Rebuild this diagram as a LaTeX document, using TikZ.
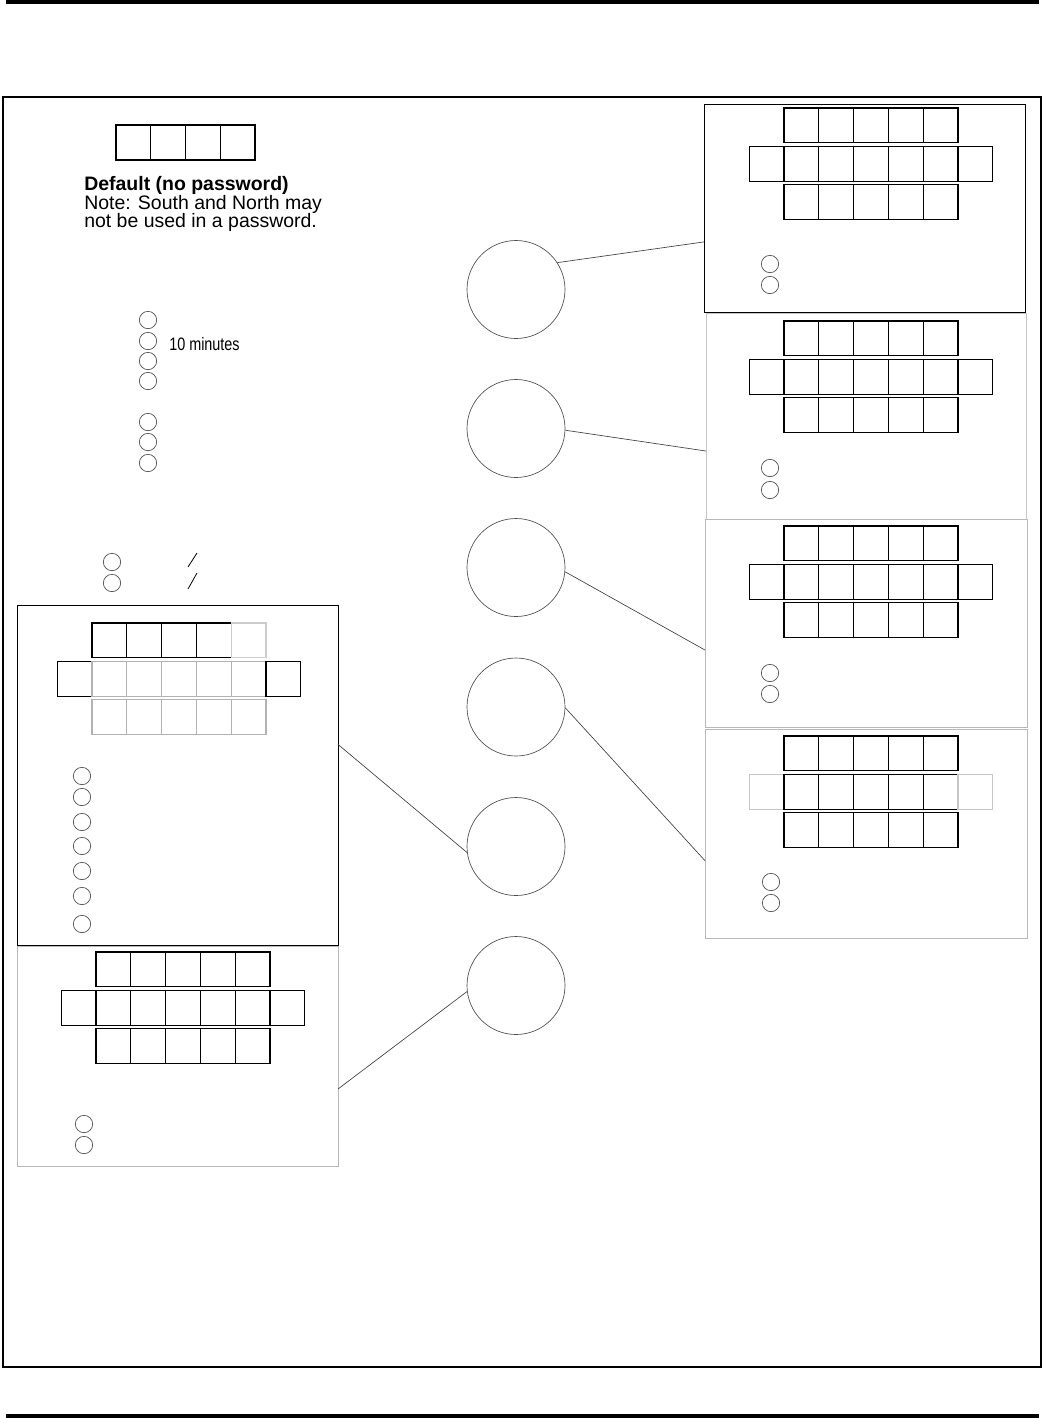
\documentclass[tikz,border=0pt]{standalone}
\usepackage{fontspec}
\setmainfont{Liberation Sans}
\newfontfamily\narrowsans[FakeStretch=0.8]{Liberation Sans}
\usetikzlibrary{calc}

\tikzset{
    keyline/.style={line width=0.9pt},
    panel/.style 2 args={draw, inner sep=0pt, outer sep=0pt,
        minimum width=#1*0.75pt, minimum height=#2*0.75pt},
    bigring/.style={circle, draw=gray!60!black, line width=0.5pt,
        minimum size=73.5pt, inner sep=0pt},
    dot/.style={circle, draw=gray!60!black, line width=0.5pt,
        minimum size=13pt, inner sep=0pt},
    link/.style={draw=gray!50!black, line width=0.5pt},
}
\newcommand{\cw}{34.8}
\newcommand{\rowgap}{38.4}
% keypad: left of top row, top of top row, colours of the three rows
\newcommand{\keypad}[5]{%
    \foreach \c [count=\i from 0] in {#3}
        \draw[keyline, draw=\c] (#1+\i*\cw, #2) rectangle ++(\cw, \cw);
    \foreach \c [count=\i from -1] in {#4}
        \draw[keyline, draw=\c] (#1+\i*\cw, #2+\rowgap) rectangle ++(\cw, \cw);
    \foreach \c [count=\i from 0] in {#5}
        \draw[keyline, draw=\c] (#1+\i*\cw, #2+2*\rowgap) rectangle ++(\cw, \cw);
}

\begin{document}
\begin{tikzpicture}[x=0.75pt, y=-0.75pt]
    \useasboundingbox (0,0) rectangle (1044,1418);
    % Page rules and frame
    \fill (6,0) rectangle (1039,4);
    \fill (6,1414) rectangle (1039,1418);
    \draw[line width=1.1pt] (3,97) rectangle (1041,1367);

    % Default password box and note
    \foreach \i in {0,...,3}
        \draw[keyline] (116+\i*34.75, 125) rectangle ++(34.75, 35);
    \node (deflt) [anchor=base west, inner sep=0pt,
        font=\bfseries\fontsize{14.6}{16}\selectfont] at (84,190) {Default (no password)};
    \node (note1) [anchor=base west, inner sep=0pt,
        font=\fontsize{14.6}{16}\selectfont] at (84,209) {Note: South and North may};
    \node (note2) [anchor=base west, inner sep=0pt,
        font=\fontsize{14.6}{16}\selectfont] at (84,227) {not be used in a password.};

    % Time-out choices
    \foreach \n/\y in {1/320,2/341,3/361,4/381,5/422,6/442,7/463}
        \node[dot] (t\n) at (148,\y) {};
    \node (tenmin) [anchor=base west, inner sep=0pt,
        font=\narrowsans\fontsize{13.5}{15}\selectfont] at (169,350) {10 minutes};

    % On / off choices
    \foreach \n/\y in {1/562,2/583}
        \node[dot] (s\n) at (112,\y) {};
    \draw[line width=0.6pt] (197,553) -- (188,567);
    \draw[line width=0.6pt] (197,573) -- (188,589);

    % Selector circles
    \foreach \k/\y in {1/289.5,2/428.5,3/567.5,4/707,5/846.5,6/985.5}
        \node[bigring] (c\k) at (516,\y) {};

    % Right panels
    \node[panel={321}{208}, line width=0.75pt] (p1) at (864.5,208) {};
    \node[panel={320}{206}, draw=gray!45] (p2) at (866,416) {};
    \node[panel={322}{208}, draw=gray!55] (p3) at (866,623) {};
    \node[panel={322}{209}, draw=gray!55] (p4) at (866,833.5) {};
    \keypad{784}{108}{black,black,black,black,black}
        {black,black,black,black,black,black,black}{black,black,black,black,black}
    \keypad{784}{321}{black,black,black,black,black}
        {black,black,black,black,black,black,black}{black,black,black,black,black}
    \keypad{784}{526}{black,black,black,black,black}
        {black,black,black,black,black,black,black}{black,black,black,black,black}
    \keypad{784}{736}{black,black,black,black,black}
        {gray!45,black,black,black,black,black,gray!45}{black,black,black,black,black}
    \foreach \n/\y in {1/264,2/285}
        \node[dot] (pa\n) at (770,\y) {};
    \foreach \n/\y in {1/468,2/490}
        \node[dot] (pb\n) at (770,\y) {};
    \foreach \n/\y in {1/673,2/694}
        \node[dot] (pc\n) at (770,\y) {};
    \foreach \n/\y in {1/882,2/903}
        \node[dot] (pd\n) at (771,\y) {};

    % Left panels
    \node[panel={321}{340}, line width=0.75pt] (l1) at (177.5,775) {};
    \node[panel={321}{220}, draw=gray!55] (l2) at (177.5,1056) {};
    \keypad{92}{623}{black,black,black,black,gray!40}
        {black,gray!60,gray!60,gray!60,gray!60,gray!60,black}{gray!60,gray!60,gray!60,gray!60,gray!60}
    \keypad{96}{952}{black,black,black,black,black}
        {black,black,black,black,black,black,black}{black,black,black,black,black}
    \foreach \n/\y in {1/776,2/797,3/822,4/846,5/871,6/896,7/924}
        \node[dot] (la\n) at (82,\y) {};
    \foreach \n/\y in {1/1124,2/1145}
        \node[dot] (lb\n) at (84,\y) {};

    % Connectors
    \draw[link] (c1.33) -- ($(p1.north west)!0.663!(p1.south west)$);
    \draw[link] (c2.-2) -- ($(p2.north west)!0.67!(p2.south west)$);
    \draw[link] (c3.-5) -- ($(p3.north west)!0.63!(p3.south west)$);
    \draw[link] (c4.-1) -- ($(p4.north west)!0.63!(p4.south west)$);
    \draw[link] (c5.187) -- ($(l1.north east)!0.41!(l1.south east)$);
    \draw[link] (c6.187) -- ($(l2.north east)!0.65!(l2.south east)$);
\end{tikzpicture}
\end{document}
